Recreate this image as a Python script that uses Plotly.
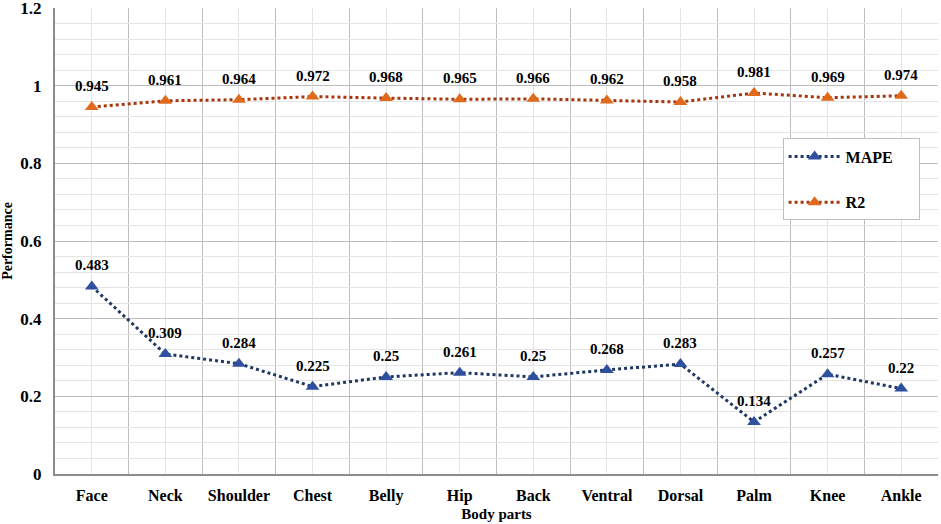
import plotly.graph_objects as go

categories = ["Face", "Neck", "Shoulder", "Chest", "Belly", "Hip", "Back",
              "Ventral", "Dorsal", "Palm", "Knee", "Ankle"]
mape = [0.483, 0.309, 0.284, 0.225, 0.25, 0.261, 0.25, 0.268, 0.283, 0.134, 0.257, 0.22]
r2 = [0.945, 0.961, 0.964, 0.972, 0.968, 0.965, 0.966, 0.962, 0.958, 0.981, 0.969, 0.974]
y_ticks = [0, 0.2, 0.4, 0.6, 0.8, 1, 1.2]
y_tick_text = ["0", "0.2", "0.4", "0.6", "0.8", "1", "1.2"]

xs = list(range(len(categories)))
font_family = "Liberation Serif"
label_font = dict(family=font_family, size=15, color="black", weight="bold")

fig = go.Figure()
fig.add_trace(go.Scatter(
    x=xs, y=mape, name="MAPE     ", mode="lines+markers",
    line=dict(color="#1F3864", width=3, dash="dot"),
    marker=dict(symbol="triangle-up", size=12, color="#2F4F9F"),
    legendgroup="a",
))
fig.add_trace(go.Scatter(
    x=xs, y=r2, name="R2", mode="lines+markers",
    line=dict(color="#A8360C", width=3, dash="dot"),
    marker=dict(symbol="triangle-up", size=12, color="#E06A1C"),
    legendgroup="b",
))

annotations = []
for series in (mape, r2):
    for xi, v in zip(xs, series):
        annotations.append(dict(x=xi, y=v, text=str(v), showarrow=False,
                                yshift=21, font=label_font))

fig.update_layout(
    width=941, height=524,
    margin=dict(l=55, r=3, t=8, b=50, autoexpand=False),
    paper_bgcolor="white", plot_bgcolor="white",
    font=dict(family=font_family, size=15, color="black"),
    annotations=annotations,
    legend=dict(
        x=0.824, y=0.72, xanchor="left", yanchor="top",
        bgcolor="white", bordercolor="#BFBFBF", borderwidth=1,
        font=dict(family=font_family, size=16, color="black", weight="bold"),
        tracegroupgap=22, itemwidth=52,
    ),
    xaxis=dict(
        range=[-0.5, len(categories) - 0.5], automargin=False,
        tickmode="array", tickvals=xs, ticktext=categories,
        showgrid=True, gridcolor="#E4E4E4", gridwidth=1,
        minor=dict(tickmode="array",
                   tickvals=[i - 0.5 for i in range(len(categories) + 1)],
                   showgrid=True, gridcolor="#BDBDBD", gridwidth=1),
        showline=True, linecolor="#8C8C8C", linewidth=2,
        zeroline=False, ticks="", ticklabelstandoff=6,
        tickfont=dict(family=font_family, size=16, color="black", weight="bold"),
        title=dict(text="Body parts", standoff=4,
                   font=dict(family=font_family, size=15, color="black", weight="bold")),
    ),
    yaxis=dict(
        range=[0, 1.2], automargin=False, ticklabeloverflow="allow",
        tickmode="array", tickvals=y_ticks, ticktext=y_tick_text,
        showgrid=True, gridcolor="#BDBDBD", gridwidth=1,
        minor=dict(dtick=0.04, tick0=0, showgrid=True, gridcolor="#E4E4E4", gridwidth=1),
        showline=True, linecolor="#8C8C8C", linewidth=2,
        zeroline=False, ticks="", ticklabelstandoff=8,
        tickfont=dict(family=font_family, size=17, color="black", weight="bold"),
        title=dict(text="Performance", standoff=6,
                   font=dict(family=font_family, size=14, color="black", weight="bold")),
    ),
)

fig.write_html("out.html", config={"displayModeBar": False},
               post_script="document.body.style.margin='0';document.body.style.overflow='hidden';")
